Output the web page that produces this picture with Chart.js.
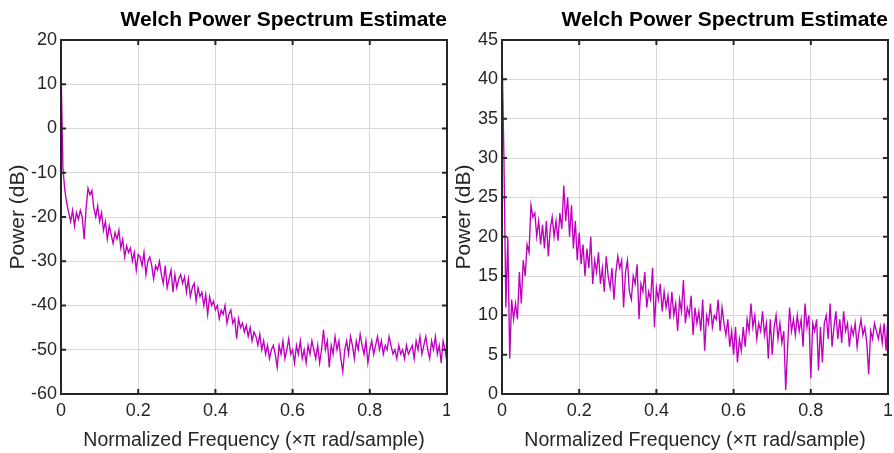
<!DOCTYPE html>
<html><head><meta charset="utf-8">
<script src="https://cdn.jsdelivr.net/npm/chart.js@4/dist/chart.umd.min.js"></script>
<style>
html,body{margin:0;padding:0;background:#fff;width:894px;height:453px;overflow:hidden}
.box{position:absolute;top:0;height:453px;width:450px}
#b1{left:0}
#b2{left:444px}
</style></head><body>
<div class="box" id="b1"><canvas id="c1"></canvas></div>
<div class="box" id="b2"><canvas id="c2"></canvas></div>
<script>
const chartTitle = 'Welch Power Spectrum Estimate';
const xLabel = 'Normalized Frequency (\u00d7\u03c0 rad/sample)';
const yLabel = 'Power (dB)';
const xTicks = [0, 0.2, 0.4, 0.6, 0.8, 1];
const leftYTicks = [-60, -50, -40, -30, -20, -10, 0, 10, 20];
const rightYTicks = [0, 5, 10, 15, 20, 25, 30, 35, 40, 45];

// left panel power (dB), one value every 0.005 of normalized frequency
const leftPower = [
 14, -9, -14, -17, -19, -21, -18.5, -22, -19, -20.5,
 -18.5, -20, -25, -18, -13.5, -15, -14, -18, -20, -17.5,
 -21, -19, -23, -21, -25, -22, -24, -26, -23.5, -25,
 -23, -27, -25, -29, -26.5, -28, -27, -30, -28, -32,
 -28.5, -29, -31, -28, -33, -30, -29, -31, -34, -31,
 -32, -30, -33, -35, -31, -36, -34, -32, -37, -33,
 -36, -34, -33, -35, -33.5, -37, -34, -38, -36, -35,
 -39, -36, -38, -37, -40, -37.5, -42, -38, -40, -39,
 -41, -40, -43, -41, -42, -40, -44, -42, -41, -44,
 -43, -47.5, -43, -45, -44, -46, -44.5, -47, -45, -48,
 -46, -47, -49, -46.5, -50, -48, -51, -49, -52, -50,
 -49, -51, -54, -49, -51, -48, -52, -50, -47.5, -51,
 -50, -53, -49, -51, -48, -52, -50, -53, -49, -51,
 -48, -50, -52, -49, -53, -50, -45.5, -50, -48, -54,
 -49, -51, -47, -50, -48, -52, -55, -50, -48, -51,
 -47, -49, -52, -48, -50, -46.5, -49, -51, -48, -53,
 -50, -48, -51, -49, -47, -50, -48, -51, -49, -50,
 -47, -49, -51, -50, -52, -49, -51, -50, -52, -49,
 -51, -50, -49, -52, -48, -50, -47, -51, -49, -47,
 -50, -52, -48, -50, -47, -51, -49, -53, -48, -50,
 -53
];

// right panel power (dB), one value every 0.005 of normalized frequency
const rightPower = [
 44, 30, 11, 20, 4.5, 12, 9.5, 11.5, 9.5, 15.5,
 11.5, 17, 15, 19, 18, 24, 22.5, 23, 20, 22,
 19, 21.5, 18.5, 22, 17.5, 21, 22.5, 20, 22, 19.5,
 23, 21, 26.5, 22, 25, 20, 24, 18.5, 22, 17,
 20.5, 16.5, 19, 15, 18.5, 16, 20, 14, 17, 15.5,
 18, 14, 16, 13, 17.5, 15, 13.5, 16, 12, 15.5,
 17.5, 16, 17, 11, 15.5, 17, 13, 12, 15, 14,
 16.5, 9.5, 14, 13, 15.5, 11, 13, 12, 16, 8.5,
 13.5, 12, 14, 10.5, 13, 11, 12.5, 9.5, 13, 10,
 11.5, 8, 12, 10.5, 14.5, 9, 11, 10, 12.5, 7.5,
 11, 9, 10.5, 8, 12, 5.5, 10, 9, 11.5, 8.5,
 10, 9.5, 12, 8, 11, 9, 7.5, 9.5, 6, 8,
 5, 8.5, 4, 7, 5.5, 8.5, 6, 9.5, 8, 11.5,
 8.5, 10, 7, 9, 8, 10.5, 7.5, 9, 4.5, 9.5,
 5, 8.5, 10, 7, 9, 6.5, 8, 0.5, 6, 11,
 8, 9.5, 7.5, 10, 8, 9.5, 6, 11.5, 8.5, 10,
 2, 9, 8, 9.5, 3, 8.5, 4, 9, 10, 7,
 11.5, 6, 8.5, 10.5, 7, 9.5, 6.5, 10.5, 8, 9,
 6, 8.5, 7.5, 9, 6, 8, 9.5, 7.5, 8.5, 6.5,
 2.5, 8, 7, 9, 8, 7, 8.5, 6.5, 9, 5.5,
 10
];

const FONT = '"Liberation Sans", Arial, Helvetica, sans-serif';
const AXIS = '#262626';

const framePlugin = {
  id: 'frame',
  afterDatasetsDraw(chart) {
    const {ctx, chartArea: a, scales: {x, y}} = chart;
    ctx.save();
    ctx.strokeStyle = AXIS;
    ctx.lineWidth = 2;
    ctx.beginPath();
    x.ticks.forEach(t => {
      const px = x.getPixelForValue(t.value);
      ctx.moveTo(px, a.bottom); ctx.lineTo(px, a.bottom - 5);
      ctx.moveTo(px, a.top); ctx.lineTo(px, a.top + 5);
    });
    y.ticks.forEach(t => {
      const py = y.getPixelForValue(t.value);
      ctx.moveTo(a.left, py); ctx.lineTo(a.left + 5, py);
      ctx.moveTo(a.right, py); ctx.lineTo(a.right - 5, py);
    });
    ctx.stroke();
    ctx.strokeRect(a.left, a.top, a.right - a.left, a.bottom - a.top);
    ctx.restore();
  }
};

function makeChart(id, values, yTicks, yAxisWidth, rightPad, yTitlePad) {
  const freq = values.map((_, i) => i / (values.length - 1));
  const pts = values.map((v, i) => ({x: freq[i], y: v}));
  return new Chart(document.getElementById(id), {
    type: 'line',
    data: {datasets: [{
      data: pts,
      borderColor: '#bf00bf',
      borderWidth: 1.35,
      pointRadius: 0,
      tension: 0,
      fill: false
    }]},
    options: {
      responsive: true,
      maintainAspectRatio: false,
      animation: false,
      devicePixelRatio: 1,
      layout: {padding: {left: 0, right: rightPad, top: 0, bottom: 0}},
      plugins: {
        legend: {display: false},
        tooltip: {enabled: false},
        title: {
          display: true, text: chartTitle, align: 'end', color: '#000',
          font: {family: FONT, size: 21, weight: 'bold', lineHeight: 1.2},
          padding: {top: 8, bottom: 6.8}
        }
      },
      scales: {
        x: {
          type: 'linear', min: 0, max: 1,
          afterBuildTicks: s => { s.ticks = xTicks.map(v => ({value: v})); },
          ticks: {
            color: AXIS, padding: 6, maxRotation: 0, autoSkip: false,
            font: {family: FONT, size: 18},
            callback: v => String(Number(v.toFixed(1)))
          },
          grid: {color: '#d8d8d8', lineWidth: 1, drawTicks: false},
          border: {display: false},
          title: {display: true, text: xLabel, color: AXIS,
            font: {family: FONT, size: 19.5, lineHeight: 1.2}, padding: {top: 0, bottom: 1}},
          afterFit: s => { s.height = 59; s.paddingLeft = 0; s.paddingRight = 0; }
        },
        y: {
          type: 'linear', min: yTicks[0], max: yTicks[yTicks.length - 1],
          afterBuildTicks: s => { s.ticks = yTicks.map(v => ({value: v})); },
          ticks: {
            color: AXIS, padding: 4, autoSkip: false,
            font: {family: FONT, size: 18}
          },
          grid: {color: '#d8d8d8', lineWidth: 1, drawTicks: false},
          border: {display: false},
          title: {display: true, text: yLabel, color: AXIS,
            font: {family: FONT, size: 21, lineHeight: 1.2}, padding: {top: yTitlePad, bottom: 0}},
          afterFit: s => { s.width = yAxisWidth; s.paddingTop = 0; s.paddingBottom = 0; }
        }
      }
    },
    plugins: [framePlugin]
  });
}

makeChart('c1', leftPower, leftYTicks, 61, 3, 6);
makeChart('c2', rightPower, rightYTicks, 58, 6, 8);
</script>
</body></html>
